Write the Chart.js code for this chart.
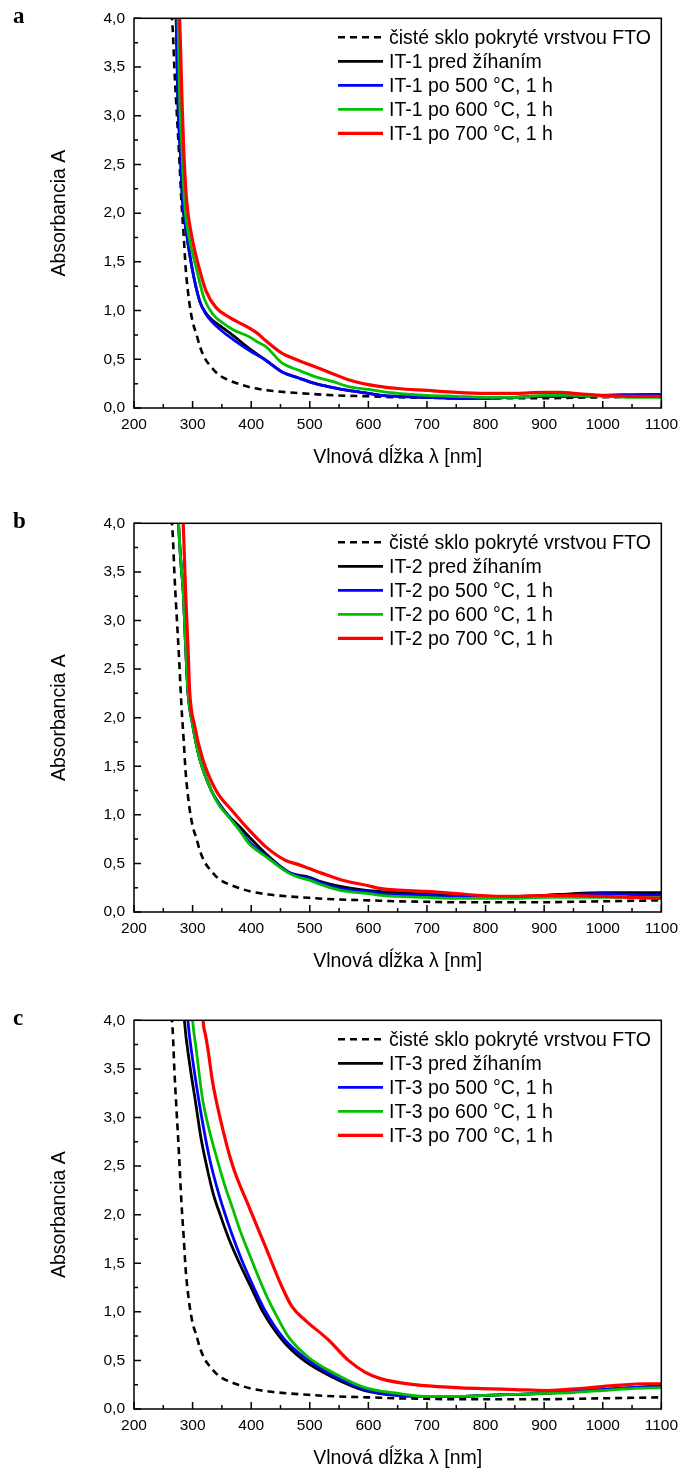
<!DOCTYPE html>
<html>
<head>
<meta charset="utf-8">
<script src="https://cdn.jsdelivr.net/npm/chart.js@4.4.1/dist/chart.umd.min.js"></script>
<style>
  body { margin: 0; background: #fff; overflow: hidden; }
  canvas { position: absolute; left: 0; }
</style>
</head>
<body>
<canvas id="chartA" width="685" height="480" style="top:0px"></canvas>
<canvas id="chartB" width="685" height="479" style="top:505px"></canvas>
<canvas id="chartC" width="685" height="479" style="top:1002px"></canvas>
<script>
// ciste sklo s FTO (rovnake pre vsetky grafy)
const ftoWl  = [264, 266, 269, 272, 277, 281, 285, 288, 292, 297, 302, 306, 312, 320, 332, 345, 360, 380, 400, 430, 464, 500, 544, 600, 650, 700, 750, 800, 850, 900, 950, 1000, 1050, 1100];
const ftoAbs = [4.05, 3.9, 3.48, 3.14, 2.6, 2.12, 1.75, 1.45, 1.2, 0.98, 0.84, 0.77, 0.64, 0.52, 0.42, 0.34, 0.29, 0.245, 0.21, 0.18, 0.16, 0.145, 0.13, 0.12, 0.11, 0.105, 0.1, 0.1, 0.1, 0.1, 0.105, 0.11, 0.115, 0.12];

// graf a - IT-1
const a1Wl  = [270, 272, 275, 279, 283, 290, 299, 312, 322, 334, 350, 370, 397, 425, 453, 480, 510, 540, 566, 600, 622, 650, 700, 750, 800, 850, 900, 950, 1000, 1050, 1100];
const a1Abs = [4.3, 4.0, 3.14, 2.63, 2.12, 1.78, 1.44, 1.10, 0.98, 0.90, 0.83, 0.74, 0.61, 0.49, 0.37, 0.31, 0.25, 0.21, 0.18, 0.15, 0.13, 0.12, 0.11, 0.10, 0.10, 0.11, 0.12, 0.12, 0.13, 0.135, 0.14];
const a5Wl  = [270, 272, 275, 279, 283, 290, 299, 312, 322, 334, 350, 370, 397, 425, 453, 480, 510, 540, 566, 600, 622, 650, 700, 750, 800, 850, 900, 950, 1000, 1050, 1100];
const a5Abs = [4.3, 4.0, 3.14, 2.63, 2.12, 1.78, 1.44, 1.10, 0.97, 0.88, 0.79, 0.70, 0.59, 0.49, 0.37, 0.31, 0.25, 0.21, 0.18, 0.15, 0.13, 0.12, 0.11, 0.10, 0.10, 0.11, 0.12, 0.12, 0.13, 0.135, 0.14];
const a6Wl  = [273, 275, 278, 282, 286, 293, 306, 320, 335, 350, 370, 397, 410, 425, 453, 480, 510, 540, 566, 600, 622, 650, 700, 750, 800, 850, 900, 950, 1000, 1050, 1100];
const a6Abs = [4.3, 4.0, 3.14, 2.63, 2.12, 1.78, 1.44, 1.12, 0.96, 0.88, 0.80, 0.73, 0.68, 0.63, 0.46, 0.39, 0.32, 0.27, 0.22, 0.19, 0.17, 0.15, 0.13, 0.12, 0.11, 0.11, 0.13, 0.13, 0.12, 0.11, 0.11];
const a7Wl  = [276, 278, 282, 285, 290, 298, 311, 323, 340, 363, 397, 410, 425, 453, 480, 510, 540, 566, 600, 622, 650, 700, 750, 800, 850, 900, 930, 950, 1000, 1050, 1100];
const a7Abs = [4.3, 4.0, 3.14, 2.63, 2.12, 1.78, 1.44, 1.20, 1.03, 0.93, 0.82, 0.77, 0.69, 0.56, 0.49, 0.42, 0.35, 0.29, 0.24, 0.22, 0.20, 0.18, 0.16, 0.15, 0.15, 0.16, 0.16, 0.15, 0.13, 0.12, 0.12];

// graf b - IT-2
const b1Wl  = [274, 276, 280, 284, 288, 292, 300, 312, 332, 345, 360, 380, 397, 425, 464, 480, 498, 520, 554, 600, 622, 650, 707, 750, 800, 850, 900, 950, 1000, 1050, 1100];
const b1Abs = [4.3, 4.0, 3.6, 3.3, 2.75, 2.27, 1.93, 1.58, 1.25, 1.12, 1.00, 0.88, 0.77, 0.60, 0.41, 0.38, 0.36, 0.31, 0.26, 0.22, 0.21, 0.20, 0.18, 0.17, 0.16, 0.16, 0.17, 0.19, 0.20, 0.20, 0.20];
const b5Wl  = [274, 276, 280, 284, 288, 292, 300, 312, 332, 345, 360, 380, 397, 425, 464, 480, 498, 520, 554, 600, 622, 650, 700, 750, 800, 850, 900, 950, 1000, 1050, 1100];
const b5Abs = [4.3, 4.0, 3.6, 3.3, 2.75, 2.27, 1.93, 1.58, 1.25, 1.11, 1.00, 0.85, 0.72, 0.58, 0.41, 0.37, 0.35, 0.30, 0.24, 0.21, 0.19, 0.18, 0.17, 0.16, 0.15, 0.15, 0.17, 0.18, 0.19, 0.18, 0.17];
const b6Wl  = [274, 276, 280, 284, 288, 292, 300, 312, 332, 345, 360, 380, 397, 425, 464, 480, 498, 520, 554, 600, 622, 650, 700, 750, 800, 850, 900, 950, 1000, 1050, 1100];
const b6Abs = [4.3, 4.0, 3.6, 3.3, 2.75, 2.27, 1.93, 1.58, 1.25, 1.10, 0.99, 0.84, 0.70, 0.57, 0.40, 0.36, 0.33, 0.28, 0.22, 0.19, 0.17, 0.16, 0.15, 0.14, 0.14, 0.14, 0.15, 0.15, 0.15, 0.15, 0.15];
const b7Wl  = [281, 284, 288, 292, 295, 303, 317, 340, 368, 397, 425, 459, 480, 498, 520, 554, 600, 622, 707, 750, 791, 850, 900, 950, 1000, 1050, 1100];
const b7Abs = [4.3, 4.0, 3.3, 2.75, 2.27, 1.93, 1.58, 1.25, 1.04, 0.84, 0.67, 0.53, 0.49, 0.45, 0.40, 0.33, 0.27, 0.24, 0.21, 0.19, 0.17, 0.16, 0.17, 0.17, 0.16, 0.15, 0.14];

// graf c - IT-3
const c1Wl  = [283, 286, 295, 305, 314, 324, 335, 347, 362, 380, 400, 420, 453, 490, 538, 594, 650, 700, 750, 800, 850, 900, 950, 1000, 1050, 1100];
const c1Abs = [4.3, 4.0, 3.55, 3.16, 2.80, 2.50, 2.22, 2.00, 1.75, 1.50, 1.25, 1.00, 0.71, 0.50, 0.33, 0.19, 0.14, 0.13, 0.13, 0.14, 0.15, 0.16, 0.18, 0.20, 0.22, 0.24];
const c5Wl  = [289, 292, 300, 310, 320, 330, 342, 353, 367, 384, 403, 423, 455, 493, 538, 594, 650, 700, 750, 800, 850, 900, 950, 1000, 1050, 1100];
const c5Abs = [4.3, 4.0, 3.60, 3.20, 2.85, 2.55, 2.27, 2.05, 1.80, 1.53, 1.27, 1.02, 0.73, 0.52, 0.35, 0.20, 0.14, 0.13, 0.13, 0.14, 0.15, 0.16, 0.18, 0.20, 0.22, 0.23];
const c6Wl  = [297, 300, 306, 317, 328, 340, 354, 368, 382, 397, 411, 425, 445, 464, 498, 538, 594, 651, 700, 750, 800, 850, 900, 950, 1000, 1050, 1100];
const c6Abs = [4.3, 4.0, 3.71, 3.19, 2.88, 2.61, 2.32, 2.07, 1.82, 1.59, 1.38, 1.18, 0.94, 0.74, 0.53, 0.38, 0.22, 0.16, 0.13, 0.13, 0.14, 0.15, 0.16, 0.17, 0.19, 0.21, 0.22];
const c7Wl  = [316, 318, 322, 326, 334, 346, 368, 397, 425, 453, 470, 493, 532, 566, 594, 622, 679, 750, 792, 850, 905, 960, 1018, 1075, 1100];
const c7Abs = [4.3, 4.0, 3.85, 3.71, 3.37, 3.02, 2.51, 2.07, 1.66, 1.25, 1.05, 0.91, 0.71, 0.50, 0.38, 0.31, 0.25, 0.22, 0.21, 0.20, 0.19, 0.21, 0.24, 0.26, 0.26];

const labelsA = ['čisté sklo pokryté vrstvou FTO', 'IT-1 pred žíhaním', 'IT-1 po 500 °C, 1 h', 'IT-1 po 600 °C, 1 h', 'IT-1 po 700 °C, 1 h'];
const labelsB = ['čisté sklo pokryté vrstvou FTO', 'IT-2 pred žíhaním', 'IT-2 po 500 °C, 1 h', 'IT-2 po 600 °C, 1 h', 'IT-2 po 700 °C, 1 h'];
const labelsC = ['čisté sklo pokryté vrstvou FTO', 'IT-3 pred žíhaním', 'IT-3 po 500 °C, 1 h', 'IT-3 po 600 °C, 1 h', 'IT-3 po 700 °C, 1 h'];

Chart.defaults.font.family = '"Liberation Sans", Arial, sans-serif';
Chart.defaults.color = '#000';

const colors = ['#000000', '#000000', '#0000ff', '#00c000', '#ff0000'];
const widths = [2.6, 2.8, 2.8, 2.8, 3.2];

function pts(wl, ab) {
    return wl.map((x, i) => ({ x: x, y: ab[i] }));
}

// ramik, dovnutra otocene ciarky, legenda a pismeno grafu
const framePlugin = {
    id: 'frame',
    afterDatasetsDraw(chart, args, opts) {
        const ctx = chart.ctx;
        const a = chart.chartArea;
        const x = chart.scales.x;
        const y = chart.scales.y;
        ctx.save();
        ctx.strokeStyle = '#000';
        ctx.lineWidth = 1.5;
        ctx.strokeRect(a.left, a.top, a.right - a.left, a.bottom - a.top);
        ctx.beginPath();
        x.ticks.forEach(t => {
            const px = x.getPixelForValue(t.value);
            const len = t.value % 100 === 0 ? 7 : 4;
            ctx.moveTo(px, a.bottom);
            ctx.lineTo(px, a.bottom - len);
        });
        y.ticks.forEach(t => {
            const py = y.getPixelForValue(t.value);
            const major = Math.abs(t.value * 2 - Math.round(t.value * 2)) < 1e-6;
            ctx.moveTo(a.left, py);
            ctx.lineTo(a.left + (major ? 7 : 4), py);
        });
        ctx.stroke();

        // legenda
        ctx.font = '19.5px "Liberation Sans", Arial, sans-serif';
        ctx.textBaseline = 'middle';
        ctx.fillStyle = '#000';
        chart.data.datasets.forEach((ds, i) => {
            const ly = a.top + 19 + i * 24;
            ctx.beginPath();
            ctx.strokeStyle = ds.borderColor;
            ctx.lineWidth = ds.borderWidth;
            ctx.setLineDash(ds.borderDash || []);
            ctx.moveTo(338, ly);
            ctx.lineTo(383, ly);
            ctx.stroke();
            ctx.setLineDash([]);
            ctx.fillText(ds.label, 389, ly + 1);
        });

        ctx.font = 'bold 23px "Liberation Serif", "Times New Roman", serif';
        ctx.textBaseline = 'alphabetic';
        ctx.fillText(opts.letter, 13, a.top + 5);
        ctx.restore();
    }
};

function makeChart(id, letter, labels, series) {
    const datasets = series.map((s, i) => ({
        label: labels[i],
        data: pts(s[0], s[1]),
        borderColor: colors[i],
        backgroundColor: colors[i],
        borderWidth: widths[i],
        borderDash: i === 0 ? [7, 5] : [],
        order: 5 - i,
        clip: 0
    }));
    return new Chart(document.getElementById(id), {
        type: 'line',
        data: { datasets: datasets },
        options: {
            responsive: false,
            animation: false,
            devicePixelRatio: 1,
            layout: { padding: { left: 0, right: 20, top: 16, bottom: 0 } },
            elements: {
                point: { radius: 0 },
                line: { cubicInterpolationMode: 'monotone' }
            },
            plugins: {
                legend: { display: false },
                tooltip: { enabled: false },
                frame: { letter: letter }
            },
            scales: {
                x: {
                    type: 'linear',
                    min: 200,
                    max: 1100,
                    grid: { display: false, drawTicks: false },
                    border: { display: false },
                    ticks: {
                        stepSize: 50,
                        autoSkip: false,
                        maxRotation: 0,
                        padding: 7,
                        font: { size: 15.5 },
                        callback: v => (v % 100 === 0 ? String(v) : '')
                    },
                    title: {
                        display: true,
                        text: 'Vlnová dĺžka λ [nm]',
                        font: { size: 19.5 },
                        padding: { top: 0, bottom: 11 }
                    },
                    afterFit: s => { s.height = 72; }
                },
                y: {
                    type: 'linear',
                    min: 0,
                    max: 4,
                    grid: { display: false, drawTicks: false },
                    border: { display: false },
                    ticks: {
                        stepSize: 0.25,
                        autoSkip: false,
                        padding: 9,
                        font: { size: 15.5 },
                        callback: v => (Math.abs(v * 2 - Math.round(v * 2)) < 1e-6 ? v.toFixed(1).replace('.', ',') : '')
                    },
                    title: {
                        display: true,
                        text: 'Absorbancia A',
                        font: { size: 19.5 },
                        padding: { top: 48, bottom: 0 }
                    },
                    afterFit: s => { s.width = 134; }
                }
            }
        },
        plugins: [framePlugin]
    });
}

makeChart('chartA', 'a', labelsA, [[ftoWl, ftoAbs], [a1Wl, a1Abs], [a5Wl, a5Abs], [a6Wl, a6Abs], [a7Wl, a7Abs]]);
makeChart('chartB', 'b', labelsB, [[ftoWl, ftoAbs], [b1Wl, b1Abs], [b5Wl, b5Abs], [b6Wl, b6Abs], [b7Wl, b7Abs]]);
makeChart('chartC', 'c', labelsC, [[ftoWl, ftoAbs], [c1Wl, c1Abs], [c5Wl, c5Abs], [c6Wl, c6Abs], [c7Wl, c7Abs]]);
</script>
</body>
</html>
